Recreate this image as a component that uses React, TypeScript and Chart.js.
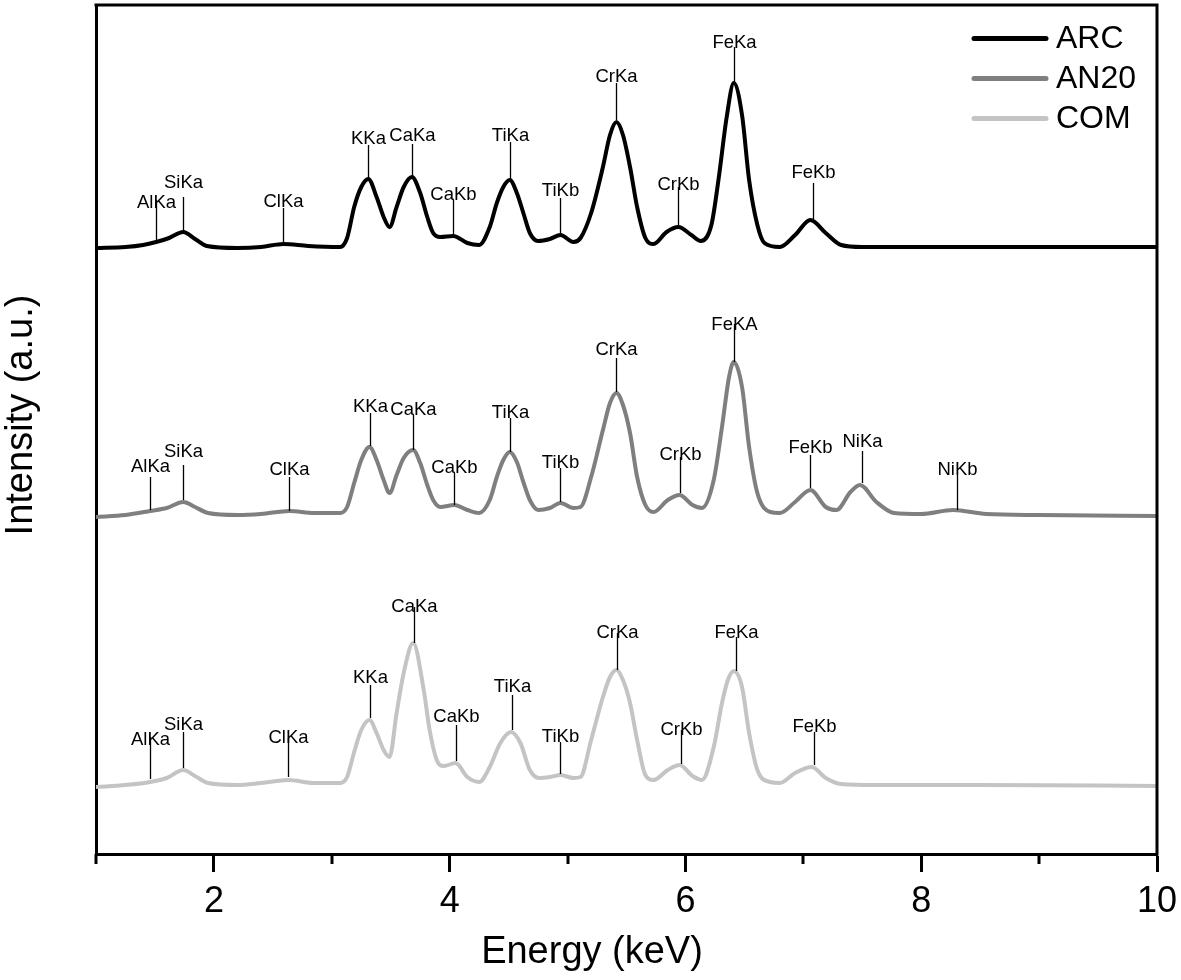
import React, { useEffect, useRef } from 'react';
import { Chart, registerables } from 'chart.js';

Chart.register(...registerables);

const FONT = '"Liberation Sans", Arial, Helvetica, sans-serif';

// ---------- series ----------
const SERIES_NAMES = ['ARC', 'AN20', 'COM'];
const SERIES_COLORS = ['#000000', '#7f7f7f', '#c4c4c4'];

const ARC_ENERGY = [1.00, 1.25, 1.40, 1.51, 1.62, 1.74, 1.84, 1.94, 2.20, 2.40, 2.59, 2.80, 3.07, 3.13, 3.19, 3.25, 3.31, 3.38, 3.44, 3.49, 3.55, 3.61, 3.68, 3.75, 3.81, 3.86, 3.92, 4.03, 4.15, 4.25, 4.34, 4.40, 4.455, 4.51, 4.57, 4.625, 4.68, 4.75, 4.85, 4.94, 5.05, 5.11, 5.20, 5.30, 5.36, 5.415, 5.47, 5.53, 5.59, 5.66, 5.73, 5.84, 5.94, 6.05, 6.13, 6.22, 6.28, 6.35, 6.41, 6.48, 6.54, 6.61, 6.67, 6.80, 6.93, 7.06, 7.19, 7.32, 7.50, 8.50, 10.0];
const ARC_INTENSITY = [606, 607, 609, 612, 616, 622, 615, 608, 606, 607, 610, 608, 607, 616, 647, 667, 675, 657, 637, 627, 647, 667, 677, 661, 637, 621, 617, 618, 611, 609, 627, 651, 667, 674, 661, 641, 621, 613, 615, 619, 612, 616, 641, 687, 719, 732, 719, 687, 647, 616, 610, 622, 627, 619, 613, 629, 674, 737, 771, 739, 674, 629, 611, 607, 619, 634, 621, 609, 607, 607, 607];

const AN20_ENERGY = [1.00, 1.25, 1.46, 1.60, 1.74, 1.84, 1.95, 2.20, 2.40, 2.64, 2.85, 3.07, 3.13, 3.19, 3.25, 3.32, 3.38, 3.44, 3.49, 3.55, 3.61, 3.69, 3.75, 3.81, 3.86, 3.92, 4.04, 4.15, 4.25, 4.34, 4.40, 4.455, 4.51, 4.57, 4.625, 4.68, 4.75, 4.85, 4.94, 5.05, 5.11, 5.20, 5.30, 5.36, 5.415, 5.47, 5.53, 5.59, 5.66, 5.73, 5.85, 5.95, 6.06, 6.14, 6.24, 6.31, 6.37, 6.41, 6.48, 6.54, 6.61, 6.72, 6.80, 6.93, 7.06, 7.19, 7.28, 7.40, 7.48, 7.62, 7.77, 8.00, 8.27, 8.55, 9.00, 10.0];
const AN20_INTENSITY = [337, 339, 343, 346, 352, 347, 341, 339, 340, 343, 341, 341, 347, 371, 394, 407, 394, 374, 361, 379, 396, 404, 391, 369, 354, 347, 349, 344, 341, 354, 377, 394, 402, 392, 372, 354, 344, 346, 351, 346, 347, 377, 424, 451, 461, 449, 421, 377, 349, 342, 354, 359, 349, 346, 374, 427, 477, 492, 467, 407, 361, 342, 341, 352, 364, 347, 344, 362, 369, 352, 341, 340, 344, 340, 339, 338];

const COM_ENERGY = [1.00, 1.25, 1.46, 1.60, 1.74, 1.84, 1.95, 2.20, 2.40, 2.63, 2.85, 3.07, 3.13, 3.19, 3.25, 3.32, 3.38, 3.44, 3.49, 3.55, 3.61, 3.69, 3.78, 3.83, 3.89, 3.95, 4.05, 4.15, 4.25, 4.34, 4.43, 4.52, 4.60, 4.68, 4.76, 4.85, 4.94, 5.05, 5.11, 5.20, 5.30, 5.36, 5.415, 5.47, 5.53, 5.59, 5.66, 5.73, 5.85, 5.95, 6.06, 6.14, 6.24, 6.31, 6.36, 6.41, 6.48, 6.54, 6.61, 6.72, 6.80, 6.93, 7.07, 7.19, 7.32, 7.60, 8.50, 10.0];
const COM_INTENSITY = [67, 69, 72, 76, 84, 78, 71, 69, 71, 74, 71, 71, 77, 102, 124, 134, 121, 104, 97, 141, 181, 211, 164, 124, 94, 88, 91, 77, 72, 87, 111, 122, 111, 84, 76, 77, 79, 76, 77, 114, 157, 177, 184, 174, 151, 114, 79, 74, 84, 89, 78, 74, 107, 151, 174, 183, 167, 121, 84, 72, 71, 81, 87, 76, 70, 69, 69, 68];

// ---------- axes ----------
const X_MIN = 1;
const X_MAX = 10;
const Y_MIN = 0;
const Y_MAX = 849;
const MINOR_TICKS = [1, 3, 5, 7, 9];
const X_TITLE = 'Energy (keV)';
const Y_TITLE = 'Intensity (a.u.)';

// ---------- peak annotations ----------
const ARC_PEAK_NAMES = ['AlKa', 'SiKa', 'ClKa', 'KKa', 'CaKa', 'CaKb', 'TiKa', 'TiKb', 'CrKa', 'CrKb', 'FeKa', 'FeKb'];
const ARC_PEAK_ENERGY = [1.51, 1.74, 2.59, 3.31, 3.68, 4.03, 4.51, 4.94, 5.415, 5.94, 6.41, 7.08];
const ARC_PEAK_TEXT = [646, 666, 647, 710, 713, 654, 713, 658, 772, 664, 806, 676];
const ARC_PEAK_TOP = [654, 657, 646, 709, 710, 654, 712, 656, 771, 667, 807, 671];
const ARC_PEAK_TIP = [612, 622, 610, 676, 677, 619, 675, 620, 734, 628, 772, 635];

const AN20_PEAK_NAMES = ['AlKa', 'SiKa', 'ClKa', 'KKa', 'CaKa', 'CaKb', 'TiKa', 'TiKb', 'CrKa', 'CrKb', 'FeKA', 'FeKb', 'NiKa', 'NiKb'];
const AN20_PEAK_ENERGY = [1.46, 1.74, 2.64, 3.32, 3.69, 4.04, 4.51, 4.94, 5.415, 5.95, 6.41, 7.06, 7.50, 8.30];
const AN20_PEAK_TEXT = [382, 397, 379, 442, 439, 381, 436, 386, 499, 394, 524, 401, 407, 379];
const AN20_PEAK_TOP = [377, 389, 377, 441, 439, 381, 436, 386, 496, 397, 530, 399, 403, 379];
const AN20_PEAK_TIP = [344, 354, 343, 408, 404, 349, 402, 352, 462, 361, 492, 366, 371, 344];

const COM_PEAK_NAMES = ['AlKa', 'SiKa', 'ClKa', 'KKa', 'CaKa', 'CaKb', 'TiKa', 'TiKb', 'CrKa', 'CrKb', 'FeKa', 'FeKb'];
const COM_PEAK_ENERGY = [1.46, 1.74, 2.63, 3.325, 3.70, 4.05, 4.525, 4.94, 5.42, 5.96, 6.43, 7.09];
const COM_PEAK_TEXT = [109, 124, 111, 171, 242, 132, 162, 112, 216, 119, 216, 122];
const COM_PEAK_TOP = [117, 122, 116, 169, 247, 129, 159, 112, 221, 124, 217, 122];
const COM_PEAK_TIP = [75, 86, 77, 136, 211, 93, 124, 80, 184, 90, 183, 89];

const PEAK_SETS = [
  { names: ARC_PEAK_NAMES, energy: ARC_PEAK_ENERGY, text: ARC_PEAK_TEXT, top: ARC_PEAK_TOP, tip: ARC_PEAK_TIP },
  { names: AN20_PEAK_NAMES, energy: AN20_PEAK_ENERGY, text: AN20_PEAK_TEXT, top: AN20_PEAK_TOP, tip: AN20_PEAK_TIP },
  { names: COM_PEAK_NAMES, energy: COM_PEAK_ENERGY, text: COM_PEAK_TEXT, top: COM_PEAK_TOP, tip: COM_PEAK_TIP },
];

const toPoints = (xs: number[], ys: number[]) => xs.map((x, i) => ({ x, y: ys[i] }));

const decorPlugin = {
  id: 'decor',
  afterDraw(chart: any) {
    const { ctx, chartArea: ca, scales } = chart;
    const xs = scales.x;
    const ys = scales.y;
    ctx.save();

    // top and right frame
    ctx.strokeStyle = '#000';
    ctx.lineWidth = 3;
    ctx.lineCap = 'square';
    ctx.beginPath();
    ctx.moveTo(ca.left, ca.top);
    ctx.lineTo(ca.right, ca.top);
    ctx.lineTo(ca.right, ca.bottom);
    ctx.stroke();

    // minor ticks
    ctx.lineCap = 'butt';
    MINOR_TICKS.forEach((v) => {
      const px = Math.round(xs.getPixelForValue(v));
      ctx.beginPath();
      ctx.moveTo(px, ca.bottom);
      ctx.lineTo(px, ca.bottom + 10);
      ctx.stroke();
    });

    // peak markers
    ctx.lineWidth = 1.3;
    ctx.fillStyle = '#000';
    ctx.font = `18.5px ${FONT}`;
    ctx.textAlign = 'center';
    ctx.textBaseline = 'alphabetic';
    PEAK_SETS.forEach((set) => {
      set.names.forEach((name, i) => {
        const px = Math.round(xs.getPixelForValue(set.energy[i])) + 0.5;
        ctx.beginPath();
        ctx.moveTo(px, ys.getPixelForValue(set.top[i]));
        ctx.lineTo(px, ys.getPixelForValue(set.tip[i]));
        ctx.stroke();
        ctx.fillText(name, px, ys.getPixelForValue(set.text[i]));
      });
    });

    // legend
    ctx.font = `32px ${FONT}`;
    ctx.textAlign = 'left';
    ctx.textBaseline = 'middle';
    ctx.lineCap = 'round';
    chart.data.datasets.forEach((ds: any, i: number) => {
      const y = 38.5 + i * 40;
      ctx.strokeStyle = ds.borderColor;
      ctx.lineWidth = 5;
      ctx.beginPath();
      ctx.moveTo(974, y);
      ctx.lineTo(1046, y);
      ctx.stroke();
      ctx.fillStyle = '#000';
      ctx.fillText(ds.label, 1056, y + 1);
    });

    // axis titles
    ctx.fillStyle = '#000';
    ctx.font = `38px ${FONT}`;
    ctx.textAlign = 'center';
    ctx.textBaseline = 'alphabetic';
    ctx.fillText(X_TITLE, 592, 963);
    ctx.save();
    ctx.translate(22, 415);
    ctx.rotate(-Math.PI / 2);
    ctx.textBaseline = 'middle';
    ctx.fillText(Y_TITLE, 0, 0);
    ctx.restore();

    ctx.restore();
  },
};

export default function App() {
  const ref = useRef<HTMLCanvasElement | null>(null);

  useEffect(() => {
    const canvas = ref.current;
    if (!canvas) return;
    const series = [
      toPoints(ARC_ENERGY, ARC_INTENSITY),
      toPoints(AN20_ENERGY, AN20_INTENSITY),
      toPoints(COM_ENERGY, COM_INTENSITY),
    ];
    const chart = new Chart(canvas, {
      type: 'line',
      data: {
        datasets: series.map((data, i) => ({
          label: SERIES_NAMES[i],
          data,
          borderColor: SERIES_COLORS[i],
          backgroundColor: SERIES_COLORS[i],
          borderWidth: 4,
          pointRadius: 0,
          fill: false,
          cubicInterpolationMode: 'monotone' as const,
        })),
      },
      options: {
        animation: false,
        responsive: false,
        devicePixelRatio: 1,
        layout: { padding: { top: 5, right: 24, left: 0, bottom: 0 } },
        plugins: { legend: { display: false }, tooltip: { enabled: false } },
        scales: {
          x: {
            type: 'linear',
            min: X_MIN,
            max: X_MAX,
            afterFit: (s: any) => { s.height = 126; s.paddingRight = 0; s.paddingLeft = 0; },
            ticks: {
              stepSize: 1,
              autoSkip: false,
              maxRotation: 0,
              padding: 8,
              color: '#000',
              font: { family: FONT, size: 36 },
              callback: (v: any) => (Number(v) % 2 === 0 ? String(v) : ''),
            },
            grid: {
              display: true,
              drawOnChartArea: false,
              drawTicks: true,
              tickLength: 18,
              tickWidth: 3,
              tickColor: (c: any) => (c.tick && Number(c.tick.value) % 2 === 0 ? '#000' : 'rgba(0,0,0,0)'),
            },
            border: { display: true, color: '#000', width: 3 },
          },
          y: {
            type: 'linear',
            min: Y_MIN,
            max: Y_MAX,
            afterFit: (s: any) => { s.width = 96; },
            ticks: { display: false },
            grid: { display: false },
            border: { display: true, color: '#000', width: 3 },
          },
        },
      },
      plugins: [decorPlugin],
    } as any);
    return () => chart.destroy();
  }, []);

  return (
    <div style={{ position: 'fixed', left: 0, top: 0, width: 1181, height: 980, background: '#fff' }}>
      <canvas ref={ref} width={1181} height={980} style={{ width: 1181, height: 980, display: 'block' }} />
    </div>
  );
}
